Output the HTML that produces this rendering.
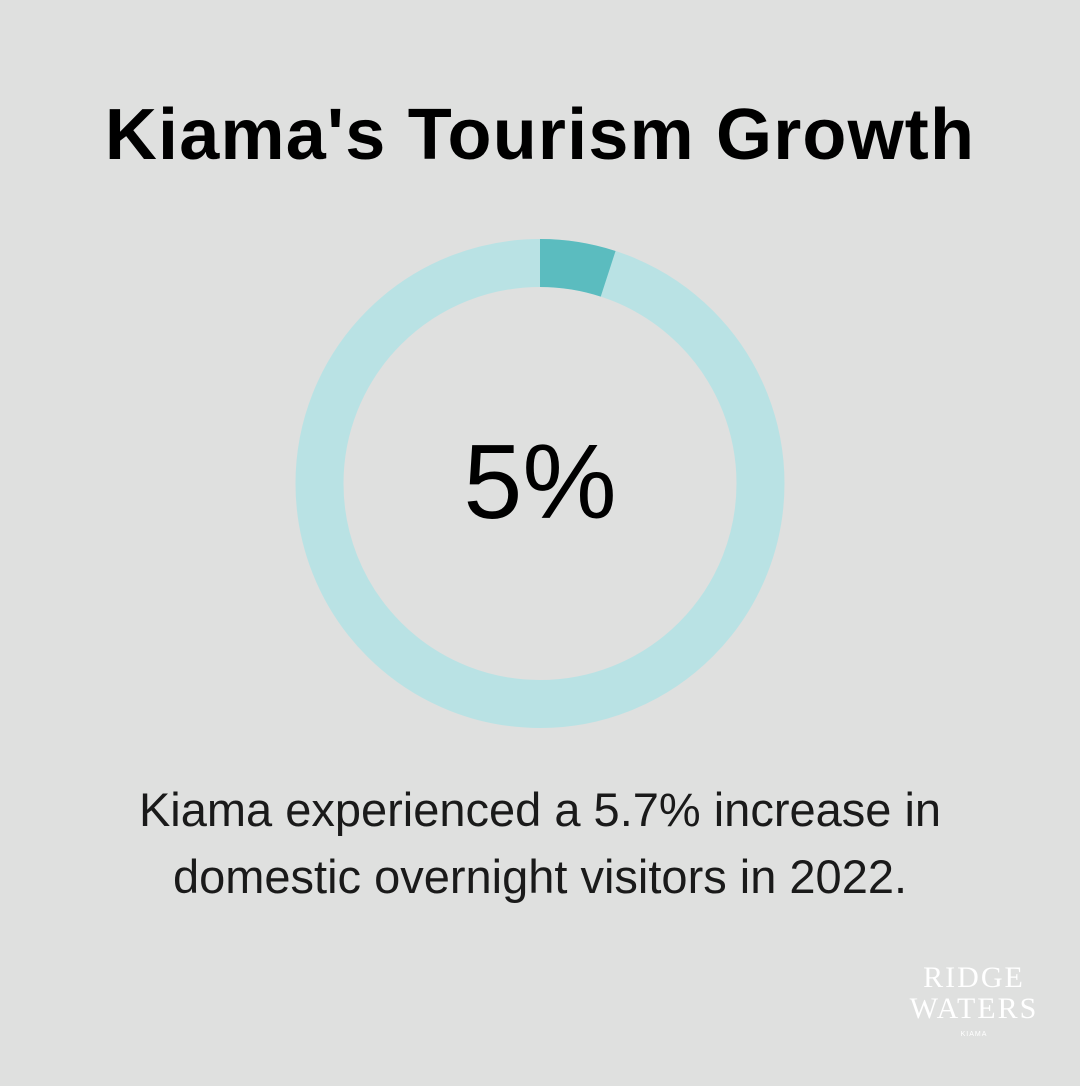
<!DOCTYPE html>
<html><head><style>
html,body{margin:0;padding:0;}
body{width:1080px;height:1086px;background:#dfe0df;position:relative;overflow:hidden;font-family:"Liberation Sans","DejaVu Sans",sans-serif;}
.t{position:absolute;left:0;width:1080px;text-align:center;white-space:nowrap;}
</style></head><body>
<div class="t" style="top:94px;font-size:72px;font-weight:bold;color:#000;letter-spacing:1.2px;">Kiama's Tourism Growth</div>
<svg style="position:absolute;left:0;top:0" width="1080" height="1086">
<circle cx="540" cy="483.5" r="220.5" fill="none" stroke="#b9e2e4" stroke-width="48"/>
<circle cx="540" cy="483.5" r="220.5" fill="none" stroke="#5bbcbf" stroke-width="48" stroke-dasharray="69.27 2000" transform="rotate(-90 540 483.5)"/>
</svg>
<div class="t" style="top:422px;font-size:106px;color:#000;">5%</div>
<div class="t" style="top:776px;font-size:47px;line-height:67px;color:#1a1a1a;font-weight:300;">Kiama experienced a 5.7% increase in<br>domestic overnight visitors in 2022.</div>
<div style="position:absolute;left:900px;top:962px;width:148px;text-align:center;color:#fff;font-family:'Liberation Serif',serif;font-size:30px;line-height:31px;letter-spacing:2px;">RIDGE<br>WATERS<div style="font-size:7px;line-height:10px;font-family:'Liberation Sans',sans-serif;letter-spacing:1px;margin-top:6px;">KIAMA</div></div>
</body></html>
